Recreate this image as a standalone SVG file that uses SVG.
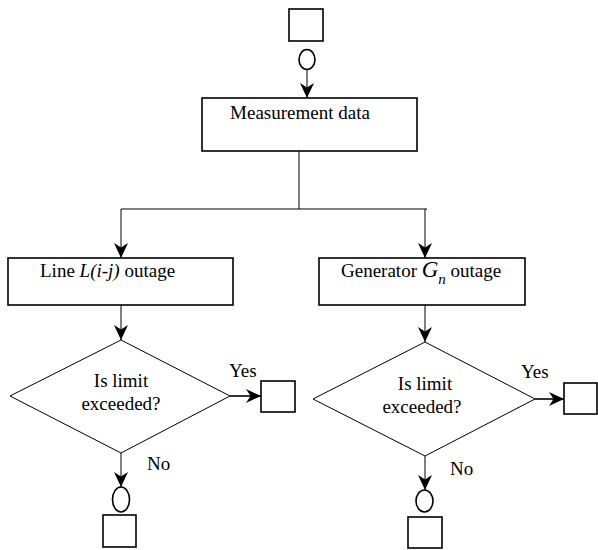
<svg xmlns="http://www.w3.org/2000/svg" width="598" height="550" viewBox="0 0 598 550">
<style>
.box{fill:#fff;stroke:#000;stroke-width:1.6}
.dia{fill:#fff;stroke:#000;stroke-width:1}
.ln{fill:none;stroke:#000;stroke-width:1}
.t{font-family:"Liberation Serif","Times New Roman",serif;font-size:19px;fill:#000}
.c{text-anchor:middle}
.i{font-style:italic}
</style>
<defs>
<marker id="ah" viewBox="0 0 15 14" refX="15" refY="7" markerWidth="15" markerHeight="14" markerUnits="userSpaceOnUse" orient="auto">
<path d="M0,0 L15,7 L0,14 L4.5,7 z" fill="#000"/>
</marker>
</defs>
<g id="connectors">
<line class="ln" x1="307" y1="69" x2="307" y2="98" marker-end="url(#ah)"/>
<polyline class="ln" points="299,151 299,209"/>
<polyline class="ln" points="121,209 427,209"/>
<line class="ln" x1="121" y1="209" x2="121" y2="258" marker-end="url(#ah)"/>
<line class="ln" x1="425" y1="209" x2="425" y2="258" marker-end="url(#ah)"/>
<line class="ln" x1="121" y1="305" x2="121" y2="340" marker-end="url(#ah)"/>
<line class="ln" x1="425" y1="305" x2="425" y2="342" marker-end="url(#ah)"/>
<line class="ln" x1="230" y1="396" x2="261" y2="396" marker-end="url(#ah)" style="stroke-width:1.6"/>
<line class="ln" x1="535" y1="399" x2="564" y2="399" marker-end="url(#ah)" style="stroke-width:1.6"/>
<line class="ln" x1="121" y1="453" x2="121" y2="487" marker-end="url(#ah)"/>
<line class="ln" x1="425" y1="456" x2="425" y2="490" marker-end="url(#ah)"/>
<text class="t" x="229" y="377">Yes</text>
<text class="t" x="521" y="378">Yes</text>
<text class="t" x="147" y="470">No</text>
<text class="t" x="450" y="475">No</text>
</g>
<g id="start">
<rect class="box" x="289" y="9" width="34" height="32"/>
<ellipse class="box" cx="307" cy="59.5" rx="8" ry="10"/>
</g>
<g id="measurement">
<rect class="box" x="202" y="98" width="215" height="53"/>
<text class="t c" x="300" y="119">Measurement data</text>
</g>
<g id="line-outage">
<rect class="box" x="8" y="258" width="225" height="47"/>
<text class="t" x="40" y="277">Line <tspan class="i">L(i-j)</tspan> outage</text>
</g>
<g id="gen-outage">
<rect class="box" x="319" y="258" width="206" height="47"/>
<text class="t" x="341" y="277">Generator <tspan class="i" font-size="23">G</tspan><tspan class="i" font-size="15" dy="7">n</tspan><tspan dy="-7"> outage</tspan></text>
</g>
<g id="decision-left">
<polygon class="dia" points="121,340 230,396 121,453 10,396"/>
<text class="t c" x="121" y="387">Is limit</text>
<text class="t c" x="121" y="410">exceeded?</text>
</g>
<g id="decision-right">
<polygon class="dia" points="425,342 535,399 425,456 313,399"/>
<text class="t c" x="425" y="390">Is limit</text>
<text class="t c" x="422" y="413">exceeded?</text>
</g>
<g id="yes-left"><rect class="box" x="261" y="381" width="34" height="31"/></g>
<g id="yes-right"><rect class="box" x="564" y="383" width="33" height="31"/></g>
<g id="no-left">
<ellipse class="box" cx="121" cy="499.5" rx="8.5" ry="12.5"/>
<rect class="box" x="103" y="515" width="33" height="32"/>
</g>
<g id="no-right">
<ellipse class="box" cx="424.5" cy="501" rx="8.5" ry="11"/>
<rect class="box" x="408" y="517" width="34" height="31"/>
</g>
</svg>
